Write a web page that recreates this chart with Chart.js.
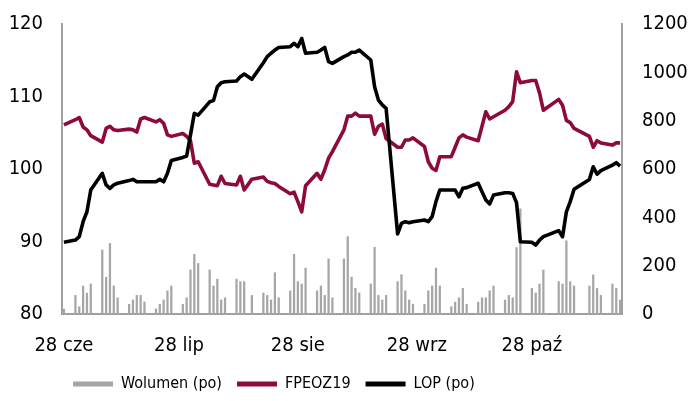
<!DOCTYPE html>
<html>
<head>
<meta charset="utf-8">
<script src="https://cdn.jsdelivr.net/npm/chart.js@4.4.1/dist/chart.umd.min.js"></script>
<style>
  body { margin: 0; background: #fff; }
  #wrap { width: 690px; height: 401px; }
</style>
</head>
<body>
<div id="wrap"><canvas id="myChart" width="690" height="401"></canvas></div>
<script>
// session days 28.06.2019 - 20.11.2019 (weekends and holidays have no quotes)
const firstDay = '2019-06-28';
const lastDay = '2019-11-20';
const holidays = ['2019-08-15', '2019-11-01', '2019-11-11'];
const monthNames = ['sty', 'lut', 'mar', 'kwi', 'maj', 'cze', 'lip', 'sie', 'wrz', 'paź', 'lis', 'gru'];

// one value per session, week by week
const volume = [
  20,
  77, 30, 116, 86, 124,
  265, 152, 292, 116, 67,
  40, 58, 77, 77, 50,
  21, 40, 58, 96, 116,
  40, 67, 182, 247, 209,
  182, 116, 144, 58, 67,
  144, 134, 134, 77,
  87, 77, 58, 171, 67,
  96, 247, 134, 124, 190,
  96, 116, 77, 228, 67,
  228, 320, 153, 106, 87,
  124, 276, 77, 58, 77,
  134, 163, 96, 58, 40,
  40, 96, 116, 190, 116,
  30, 49, 67, 106, 40,
  49, 67, 67, 96, 116,
  58, 77, 67, 275, 435,
  106, 87, 124, 182,
  134, 124, 303, 134, 116,
  116, 162, 106, 77,
  124, 106, 58
];

const fpeoz19 = [
  106.1,
  106.8, 107.1, 105.8, 105.4, 104.6,
  103.7, 105.6, 105.9, 105.4, 105.3,
  105.5, 105.4, 105.1, 106.9, 107.1,
  106.5, 106.8, 106.3, 104.7, 104.5,
  104.9, 104.5, 103.9, 100.8, 101.0,
  97.9, 97.8, 97.7, 99.0, 98.0,
  97.8, 99.0, 97.1, 98.6,
  98.9, 98.3, 98.1, 98.0, 97.6,
  96.6, 96.8, 95.5, 94.1, 97.7,
  99.4, 98.6, 99.9, 101.5, 102.4,
  105.4, 107.3, 107.3, 107.7, 107.3,
  107.3, 104.8, 105.9, 106.2, 104.2,
  103.0, 103.0, 104.0, 104.0, 104.3,
  103.1, 101.0, 100.1, 99.8, 101.7,
  101.7, 103.0, 104.3, 104.7, 104.4,
  103.9, 105.9, 107.9, 106.9, 107.2,
  108.1, 108.6, 109.3, 113.4, 111.9,
  112.2, 112.2, 110.5, 108.1,
  109.6, 108.8, 106.7, 106.4, 105.6,
  104.5, 103.0, 103.9, 103.6,
  103.3, 103.6, 103.6
];

const lop = [
  297,
  306, 320, 382, 423, 513,
  582, 534, 520, 534, 541,
  552, 557, 547, 547, 547,
  547, 557, 547, 582, 635,
  648, 654, 741, 830, 823,
  878, 883, 940, 957, 961,
  964, 982, 993, 971,
  1040, 1065, 1079, 1092, 1103,
  1106, 1120, 1106, 1140, 1079,
  1083, 1092, 1103, 1044, 1037,
  1065, 1072, 1083, 1083, 1092,
  1051, 940, 885, 865, 851,
  331, 375, 382, 378, 382,
  389, 382, 403, 465, 513,
  513, 513, 485, 520, 523,
  541, 506, 472, 455, 492,
  502, 502, 499, 461, 299,
  297, 285, 306, 320,
  345, 320, 423, 465, 516,
  557, 609, 579, 593,
  616, 626, 612
];

const leftTicks = { min: 80, max: 120, step: 10 };
const rightTicks = { min: 0, max: 1200, step: 200 };

// calendar days on the x axis
const days = [];
for (let t = Date.parse(firstDay + 'T00:00:00Z'); t <= Date.parse(lastDay + 'T00:00:00Z'); t += 86400000) {
  days.push(new Date(t).toISOString().slice(0, 10));
}

function isSession(d) {
  const wd = new Date(d + 'T00:00:00Z').getUTCDay();
  return wd !== 0 && wd !== 6 && !holidays.includes(d);
}

function spread(values) {
  let k = 0;
  return days.map(d => (isSession(d) ? values[k++] : null));
}

const fontFamily = "'DejaVu Sans Condensed', 'DejaVu Sans', sans-serif";
const tickFont = { family: fontFamily, size: 20 };

// legend sits under the plot, starting near the left axis
const legendShift = {
  id: 'legendShift',
  beforeDraw(chart) {
    chart.legend.left = 58;
  }
};

// fixed axis width, no extra room above/below the plot for the end labels
function fixWidth(w) {
  return scale => {
    scale.width = w;
    scale.paddingTop = 0;
    scale.paddingBottom = 0;
  };
}

const ctx = document.getElementById('myChart').getContext('2d');
const myChart = new Chart(ctx, {
  type: 'bar',
  data: {
    labels: days,
    datasets: [
      {
        label: 'Wolumen (po)',
        data: spread(volume),
        yAxisID: 'y2',
        backgroundColor: '#a6a6a6',
        borderColor: '#a6a6a6',
        borderWidth: 0,
        barThickness: 1.6,
        order: 3
      },
      {
        type: 'line',
        label: 'FPEOZ19',
        data: spread(fpeoz19),
        yAxisID: 'y',
        borderColor: '#8c0a3c',
        backgroundColor: '#8c0a3c',
        borderWidth: 3.6,
        pointRadius: 0,
        spanGaps: true,
        tension: 0,
        borderJoinStyle: 'round',
        order: 2
      },
      {
        type: 'line',
        label: 'LOP (po)',
        data: spread(lop),
        yAxisID: 'y2',
        borderColor: '#000000',
        backgroundColor: '#000000',
        borderWidth: 3.6,
        pointRadius: 0,
        spanGaps: true,
        tension: 0,
        borderJoinStyle: 'round',
        order: 1
      }
    ]
  },
  options: {
    responsive: false,
    animation: false,
    layout: { padding: { left: 0, right: 0, top: 24, bottom: -1 } },
    plugins: {
      tooltip: { enabled: false },
      legend: {
        position: 'bottom',
        align: 'start',
        labels: {
          boxWidth: 40,
          boxHeight: 5,
          padding: 15,
          color: '#000',
          font: { family: fontFamily, size: 16 },
          generateLabels: chart => Chart.defaults.plugins.legend.labels.generateLabels(chart)
            .map(l => ({ ...l, fillStyle: l.strokeStyle, lineWidth: 0 })),
          sort: (a, b) => a.datasetIndex - b.datasetIndex
        }
      }
    },
    scales: {
      x: {
        grid: { display: false },
        border: { display: true, color: '#a0a0a0', width: 2 },
        ticks: {
          autoSkip: false,
          maxRotation: 0,
          minRotation: 0,
          padding: 12,
          color: '#000',
          font: tickFont,
          callback: function (value, index) {
            const d = days[index];
            if (d.slice(8) !== '28') return null;
            return '28 ' + monthNames[parseInt(d.slice(5, 7), 10) - 1];
          }
        },
        afterFit: scale => { scale.height = 47; }
      },
      y: {
        position: 'left',
        min: leftTicks.min,
        max: leftTicks.max,
        grid: { display: false, drawTicks: false },
        border: { display: true, color: '#a0a0a0', width: 2 },
        ticks: { stepSize: leftTicks.step, padding: 19, color: '#000', font: tickFont, callback: v => String(v) },
        afterFit: fixWidth(62)
      },
      y2: {
        position: 'right',
        min: rightTicks.min,
        max: rightTicks.max,
        grid: { display: false, drawTicks: false },
        border: { display: true, color: '#a0a0a0', width: 2 },
        ticks: { stepSize: rightTicks.step, padding: 20, color: '#000', font: tickFont, callback: v => String(v) },
        afterFit: fixWidth(68)
      }
    }
  },
  plugins: [legendShift]
});
</script>
</body>
</html>
